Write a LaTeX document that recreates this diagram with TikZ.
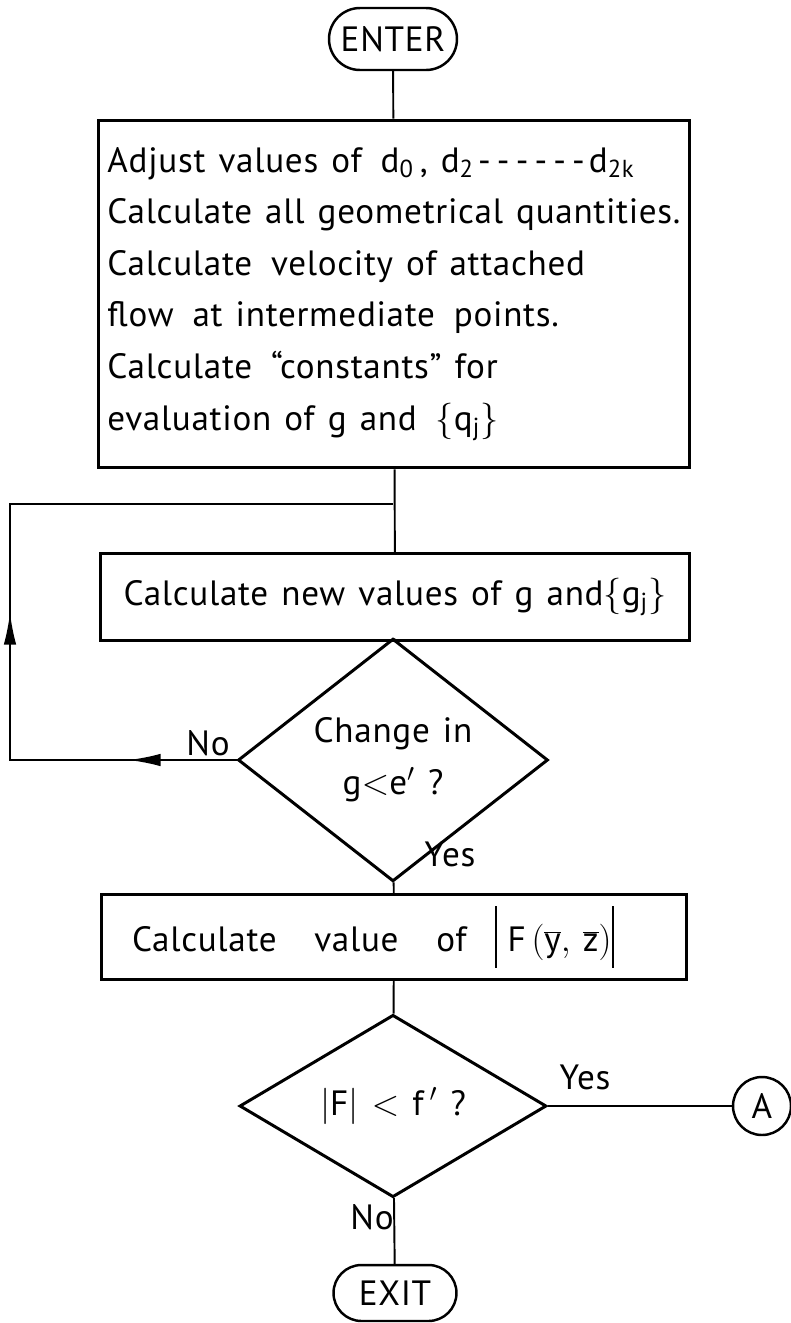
\documentclass[tikz,border=0pt]{standalone}
\usepackage{fontspec}
\setmainfont{PT Sans}[LetterSpace=2, WordSpace=1.3]
\usetikzlibrary{arrows.meta,shapes.geometric,decorations.markings}

\newcommand\dashrun{\hbox to 2.3cm{\xleaders\hbox to 0.33cm{\hss-\hss}\hfill}}
\newcommand\tallbar{\rule[-0.45em]{1.3pt}{1.75em}}

\begin{document}
\begin{tikzpicture}[
  x=0.02cm, y=-0.02cm,
  every node/.style={font=\fontsize{20}{29.4}\selectfont},
  terminal/.style={
    draw,
    line width=1.4pt,
    rounded corners=#1,
    minimum height=2*#1,
    inner sep=0pt
  },
  procbox/.style={
    draw,
    line width=1.7pt,
    align=left,
    inner sep=0pt
  },
  decision/.style={
    draw,
    diamond,
    line width=1.7pt,
    align=center,
    inner sep=0pt
  },
  connector/.style={draw, circle, line width=1.4pt, inner sep=0pt, minimum size=1.16cm},
  flow/.style={line width=1.1pt},
  lbl/.style={inner sep=0pt},
  looparr/.style={
    flow,
    decoration={markings,
      mark=at position 2.16cm with {\arrow{Latex[length=0.64cm,width=0.25cm]}},
      mark=at position 7.48cm with {\arrow{Latex[length=0.64cm,width=0.25cm]}}},
    postaction={decorate}
  },
]
\useasboundingbox (0,0) rectangle (791,1323);

% Start and first block.
\node[terminal=0.62cm, minimum width=2.56cm] (enter) at (393,39) {ENTER};

\node[procbox, minimum width=11.82cm, minimum height=6.96cm] (calc1) at (394,294)
  {Adjust values of\, d\textsubscript{0}\,, d\textsubscript{2}\dashrun d\textsubscript{2k}\\
   Calculate all geometrical quantities.\\
   Calculate\, velocity of attached\\
   flow\, at intermediate\, points.\\
   Calculate\, “constants” for\\
   evaluation of g and\, $\Big\{$q\textsubscript{j}$\Big\}$};

% Iteration on g.
\node[procbox, minimum width=11.8cm, minimum height=1.74cm] (calc2) at (395,597)
  {Calculate new values of g and$\Big\{$g\textsubscript{j}$\Big\}$};

\node[decision, minimum width=6.2cm, minimum height=3.52cm] (dia1) at (393,760)
  {Change in\\g$<$e$'$ ?};

\coordinate (join) at (393,504);
\coordinate (lowleft) at (10,760);

\node[lbl] (no1) at (208,743) {No};
\node[lbl] (yes1) at (450,854) {Yes};

% Residual test.
\node[procbox, minimum width=11.7cm, minimum height=1.7cm] (calc3) at (394,937)
  {Calculate\hspace{0.7em} value\hspace{0.7em} of\hspace{0.8em}\tallbar\hspace{0.3em}F\,$\Big(\overline{\mbox{y}},\,\overline{\mbox{z}}\Big)$\tallbar\hspace{1.2em}};

\node[decision, minimum width=6.14cm, minimum height=3.54cm] (dia2) at (393,1106)
  {$\Big|$F$\Big|$ $<$ f$\,'$ ?};

\node[lbl] (yes2) at (585,1077) {Yes};
\node[lbl] (no2) at (372,1217) {No};

\node[connector] (conA) at (762,1106) {A};
\node[terminal=0.56cm, minimum width=2.46cm] (exit) at (395,1293) {EXIT};

\draw[flow] (enter) -- (calc1);
\draw[flow] (calc1) -- (calc2);
\draw[flow] (calc2) -- (dia1);
\draw[flow] (dia1) -- (calc3);
\draw[flow] (calc3) -- (dia2);
\draw[flow] (dia2) -- (exit);
\draw[flow] (dia2.east) -- (conA);
\draw[looparr] (dia1.west) -- (lowleft) |- (join);

\end{tikzpicture}
\end{document}
